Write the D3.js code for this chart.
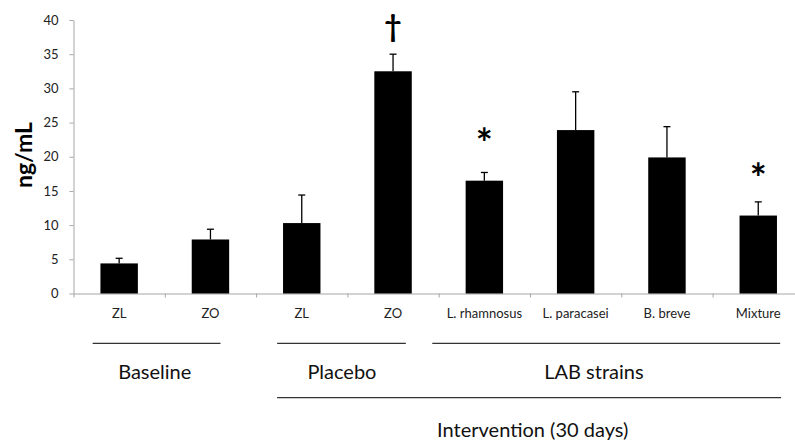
<!DOCTYPE html>
<html>
<head>
<meta charset="utf-8">
<script src="https://cdn.jsdelivr.net/npm/d3@7"></script>
<style>
  body { margin: 0; background: #fff; }
  text { font-family: Lato, "Open Sans", sans-serif; }
</style>
</head>
<body>
<svg id="chart" width="795" height="441"></svg>
<script>
// values (ng/mL, mean and error)
const categories = ["ZL", "ZO", "ZL", "ZO", "L. rhamnosus", "L. paracasei", "B. breve", "Mixture"];
const means = [4.4, 7.9, 10.3, 32.5, 16.5, 23.9, 19.9, 11.4];
const errors = [0.75, 1.5, 4.1, 2.5, 1.2, 5.6, 4.5, 2.0];
const markers = ["", "", "", "\u2020", "*", "", "", "*"];
const markerLevels = [null, null, null, 39.3, 23.8, null, null, 18.6];
const yTicks = [0, 5, 10, 15, 20, 25, 30, 35, 40];

// group brackets under the axis, positions in band units
const groupLabels = ["Baseline", "Placebo", "LAB strains", "Intervention (30 days)"];
const groupStarts = [0.21, 2.23, 3.93, 2.23];
const groupEnds = [1.61, 3.64, 7.74, 7.75];
const groupCenters = [0.89, 2.94, 5.70, 5.03];
const groupRows = [0, 0, 0, 1];

const svg = d3.select('#chart');
const plotLeft = 73.5, plotTop = 20, plotBottom = 293.5, step = 91.3;
const axisColor = '#a6a6a6';

const y = d3.scaleLinear().domain([0, 40]).range([plotBottom, plotTop]);
const pos = d3.scaleLinear().domain([0, categories.length]).range([plotLeft, plotLeft + step * categories.length]);
const x = d3.scaleBand()
    .domain(d3.range(categories.length))
    .range(pos.range())
    .paddingInner(0.59)
    .paddingOuter(0.295);

// y axis
const yAxis = svg.append('g')
    .attr('transform', 'translate(' + plotLeft + ',0)')
    .call(d3.axisLeft(y).tickValues(yTicks).tickSize(4).tickSizeOuter(0).tickPadding(11));
yAxis.selectAll('path, line').attr('stroke', axisColor);
yAxis.selectAll('text').attr('font-size', 13).attr('fill', '#222').style('font-family', 'Lato, sans-serif');

// x axis with ticks between the bars
const xAxis = svg.append('g')
    .attr('transform', 'translate(0,' + plotBottom + ')')
    .call(d3.axisBottom(pos).tickValues(d3.range(categories.length + 1)).tickFormat('').tickSize(4).tickSizeOuter(0));
xAxis.selectAll('path, line').attr('stroke', axisColor);

svg.append('g').selectAll('text')
    .data(categories)
    .join('text')
    .attr('x', (d, i) => x(i) + x.bandwidth() / 2)
    .attr('y', 318)
    .attr('text-anchor', 'middle')
    .attr('font-size', 13)
    .attr('fill', '#222')
    .text(d => d);

// bars
svg.append('g').selectAll('rect')
    .data(means)
    .join('rect')
    .attr('x', (d, i) => x(i))
    .attr('width', x.bandwidth())
    .attr('y', d => y(d))
    .attr('height', d => y(0) - y(d))
    .attr('fill', '#000');

// error bars (upper only)
const err = svg.append('g').attr('stroke', '#000').attr('stroke-width', 1.3);
means.forEach((m, i) => {
    const cx = x(i) + x.bandwidth() / 2;
    err.append('line').attr('x1', cx).attr('x2', cx).attr('y1', y(m)).attr('y2', y(m + errors[i]));
    err.append('line').attr('x1', cx - 3.5).attr('x2', cx + 3.5).attr('y1', y(m + errors[i])).attr('y2', y(m + errors[i]));
});

// significance markers
svg.append('g').selectAll('text')
    .data(markers.map((m, i) => ({ m, i })).filter(d => d.m))
    .join('text')
    .attr('x', d => x(d.i) + x.bandwidth() / 2)
    .attr('y', d => y(markerLevels[d.i]))
    .attr('text-anchor', 'middle')
    .attr('dominant-baseline', 'central')
    .attr('font-weight', 'bold')
    .attr('font-size', d => d.m === '*' ? 40 : 30)
    .attr('dy', d => d.m === '*' ? '0.3em' : '0')
    .text(d => d.m);

// y axis title
svg.append('text')
    .attr('transform', 'translate(32,155) rotate(-90)')
    .attr('text-anchor', 'middle')
    .attr('font-size', 23)
    .attr('font-weight', 'bold')
    .text('ng/mL');

// group lines and labels
const rowLineY = [343.3, 397.7];
const rowTextY = [379.3, 436.7];
const groups = svg.append('g');
groupLabels.forEach((label, i) => {
    groups.append('line')
        .attr('x1', pos(groupStarts[i])).attr('x2', pos(groupEnds[i]))
        .attr('y1', rowLineY[groupRows[i]]).attr('y2', rowLineY[groupRows[i]])
        .attr('stroke', '#333').attr('stroke-width', 1.3);
    groups.append('text')
        .attr('x', pos(groupCenters[i]))
        .attr('y', rowTextY[groupRows[i]])
        .attr('text-anchor', 'middle')
        .attr('font-size', 20)
        .attr('fill', '#111')
        .text(label);
});
</script>
</body>
</html>
